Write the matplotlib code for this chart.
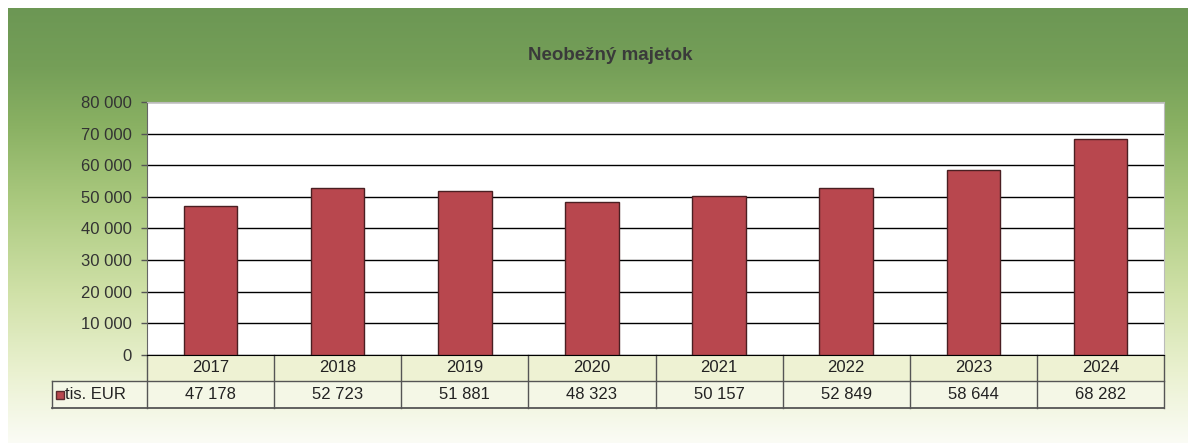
import numpy as np
import matplotlib
matplotlib.use('Agg')
import matplotlib.pyplot as plt
from matplotlib.ticker import FuncFormatter
from matplotlib.patches import Rectangle

# data
years = ['2017', '2018', '2019', '2020', '2021', '2022', '2023', '2024']
values = [47178, 52723, 51881, 48323, 50157, 52849, 58644, 68282]
series_label = 'tis. EUR'
title = 'Neobežný majetok'

plt.rcParams['font.family'] = ['Liberation Sans', 'DejaVu Sans']

W, H = 1188, 443
fig = plt.figure(figsize=(W / 100, H / 100), dpi=100)
fig.patch.set_facecolor('white')

def fmt(v):
    return '{:,}'.format(int(v)).replace(',', ' ')

# green gradient panel
bg = fig.add_axes([0, 0, 1, 1], zorder=0)
bg.set_xlim(0, W)
bg.set_ylim(H, 0)
bg.axis('off')
stop_y = [0, 60, 120, 200, 290, 370, 443]
stop_c = [(108, 151, 84), (117, 159, 88), (138, 177, 99), (172, 202, 128),
          (208, 225, 168), (234, 241, 208), (251, 252, 246)]
rows = np.arange(H)
grad = np.zeros((H, 1, 3))
for c in range(3):
    grad[:, 0, c] = np.interp(rows, stop_y, [s[c] for s in stop_c]) / 255
bg.imshow(grad, extent=(8, W, H, 8), aspect='auto', interpolation='bilinear')

fig.text(610 / W, 1 - 55 / H, title, ha='center', va='center',
         fontsize=13.5, fontweight='bold', color='#3a3a3a')

# plot area
L, R, T, B = 147, 1164, 102, 355
ax = fig.add_axes([L / W, 1 - B / H, (R - L) / W, (B - T) / H], zorder=2)
ax.set_facecolor('white')
x = np.arange(len(years))
ax.bar(x, values, width=0.42, color='#B8474E', edgecolor='#4a1f22', linewidth=1, zorder=3)
ax.set_xlim(-0.5, len(years) - 0.5)
ax.set_ylim(0, 80000)
ax.set_yticks(np.arange(0, 80001, 10000))
ax.yaxis.set_major_formatter(FuncFormatter(lambda v, p: fmt(v)))
ax.set_xticks([])
ax.yaxis.grid(True, color='black', linewidth=1)
ax.set_axisbelow(True)
ax.tick_params(axis='y', length=4, width=1, color='#555555', pad=7,
               labelsize=12, labelcolor='#333333')
ax.spines['left'].set_color('#666666')
ax.spines['bottom'].set_color('black')
ax.spines['top'].set_color('#bbbbbb')
ax.spines['right'].set_color('#bbbbbb')

# data table under the plot
tr = ax.get_xaxis_transform()
y1 = -(381 - B) / (B - T)
y2 = -(408 - B) / (B - T)
xl = -0.5 - (L - 52) / ((R - L) / len(years))
xr = len(years) - 0.5
ax.add_patch(Rectangle((-0.5, y1), len(years), -y1, transform=tr, clip_on=False,
                       facecolor='#eef2d3', edgecolor='none', zorder=1))
ax.add_patch(Rectangle((xl, y2), xr - xl, y1 - y2, transform=tr, clip_on=False,
                       facecolor='#f4f7e6', edgecolor='none', zorder=1))
lc = '#555555'
ax.plot([xl, xr], [y1, y1], transform=tr, clip_on=False, color=lc, lw=1)
ax.plot([xl, xr], [y2, y2], transform=tr, clip_on=False, color=lc, lw=1.3)
ax.plot([xl, xl], [y1, y2], transform=tr, clip_on=False, color=lc, lw=1)
for i in range(len(years) + 1):
    ax.plot([i - 0.5, i - 0.5], [0, y2], transform=tr, clip_on=False, color=lc, lw=1)
for i, (yr, v) in enumerate(zip(years, values)):
    ax.text(i, y1 / 2, yr, transform=tr, ha='center', va='center', fontsize=12, color='#222222')
    ax.text(i, (y1 + y2) / 2, fmt(v), transform=tr, ha='center', va='center',
            fontsize=12, color='#222222')
ax.plot([xl + 0.06], [(y1 + y2) / 2], transform=tr, clip_on=False, marker='s',
        markersize=6, color='#B8474E', markeredgecolor='#5a2a2e')
ax.text(xl + 0.1, (y1 + y2) / 2, series_label, transform=tr, ha='left', va='center',
        fontsize=12, color='#222222')

plt.savefig('out.png', dpi=100)
plt.close()
